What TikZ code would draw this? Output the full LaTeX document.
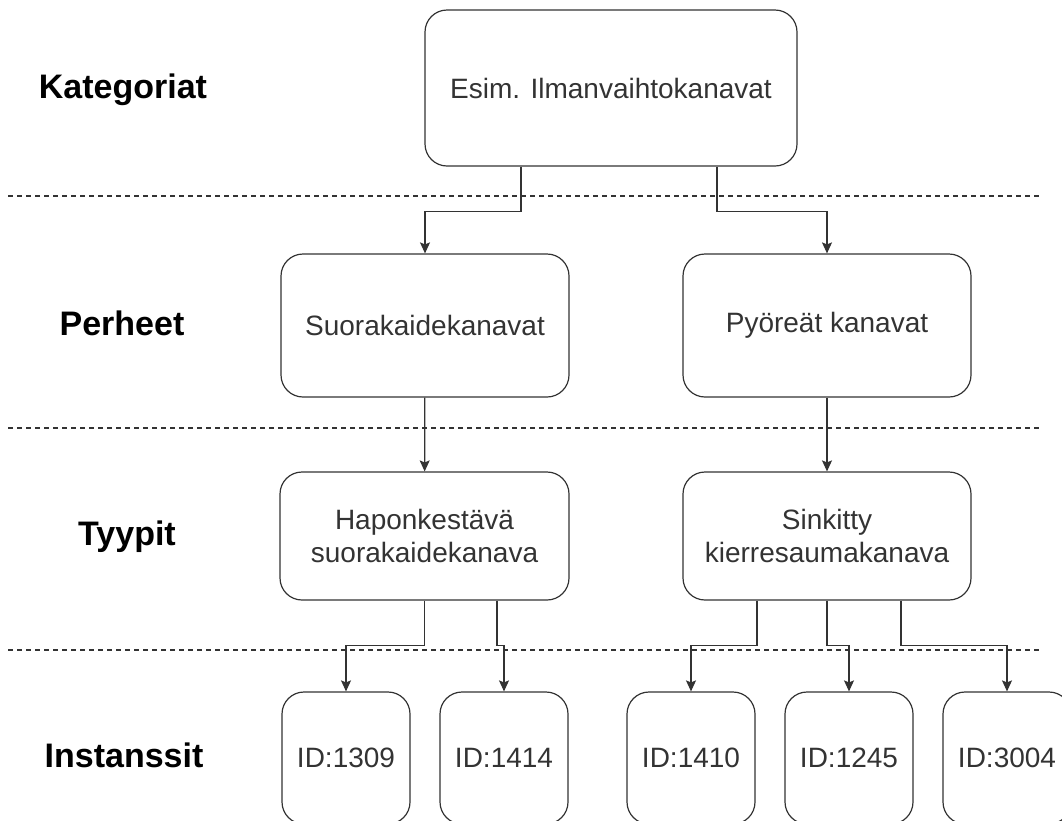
\documentclass[tikz,border=0pt]{standalone}
\usepackage{fontspec}
\setmainfont{Liberation Sans}
\usetikzlibrary{arrows.meta}

\tikzset{
  laatikko/.style={draw=black!80, rounded corners=22pt, line width=1.2pt, align=center,
    font=\fontsize{28}{33}\selectfont, text=black!80},
  taso/.style={font=\fontsize{34}{40}\selectfont\bfseries, text=black},
  nuoli/.style={draw=black!80, line width=1.2pt, -{Stealth[length=11pt,width=10pt,inset=2pt]}},
  raja/.style={draw=black!80, dash pattern=on 5pt off 4pt, line width=1.1pt}
}

\begin{document}
\begin{tikzpicture}[x=1pt,y=-1pt]
\useasboundingbox (0,0) rectangle (1062,820);
\clip (0,0) rectangle (1062,820);

% tasojen rajat
\foreach \y in {196,428,650}
  \draw[raja] (8,\y) -- (1040,\y);

% tasojen nimet
\node[taso] (lkat) at (123,90) {Kategoriat};
\node[taso] (lper) at (122,323) {Perheet};
\node[taso] (ltyy) at (127,537) {Tyypit};
\node[taso] (lins) at (124,755) {Instanssit};

% laatikot
\node[laatikko, minimum width=372pt, minimum height=156pt] (kat) at (611,88) {Esim. Ilmanvaihtokanavat};
\node[laatikko, minimum width=288pt, minimum height=143pt] (suora) at (425,325.5) {Suorakaidekanavat};
\node[laatikko, minimum width=288pt, minimum height=143pt] (pyor) at (827,325.5) {Pyöreät kanavat};
\node[laatikko, minimum width=289pt, minimum height=128pt] (hapon) at (424.5,536) {Haponkestävä\\suorakaidekanava};
\node[laatikko, minimum width=288pt, minimum height=128pt] (sink) at (827,536) {Sinkitty\\kierresaumakanava};
\node[laatikko, minimum width=128pt, minimum height=132pt] (i1309) at (346,758) {ID:1309};
\node[laatikko, minimum width=128pt, minimum height=132pt] (i1414) at (504,758) {ID:1414};
\node[laatikko, minimum width=128pt, minimum height=132pt] (i1410) at (691,758) {ID:1410};
\node[laatikko, minimum width=128pt, minimum height=132pt] (i1245) at (849,758) {ID:1245};
\node[laatikko, minimum width=128pt, minimum height=132pt] (i3004) at (1007,758) {ID:3004};

% nuolet
\draw[nuoli] ([xshift=-90pt]kat.south) -- ++(0,45) -| (suora.north);
\draw[nuoli] ([xshift=106pt]kat.south) -- ++(0,45) -| (pyor.north);
\draw[nuoli] (suora) -- (hapon);
\draw[nuoli] (pyor) -- (sink);
\draw[nuoli] (hapon.south) -- ++(0,45) -| (i1309.north);
\draw[nuoli] ([xshift=72.5pt]hapon.south) -- ++(0,45) -| (i1414.north);
\draw[nuoli] ([xshift=-70pt]sink.south) -- ++(0,45) -| (i1410.north);
\draw[nuoli] (sink.south) -- ++(0,45) -| (i1245.north);
\draw[nuoli] ([xshift=74pt]sink.south) -- ++(0,45) -| (i3004.north);
\end{tikzpicture}
\end{document}
